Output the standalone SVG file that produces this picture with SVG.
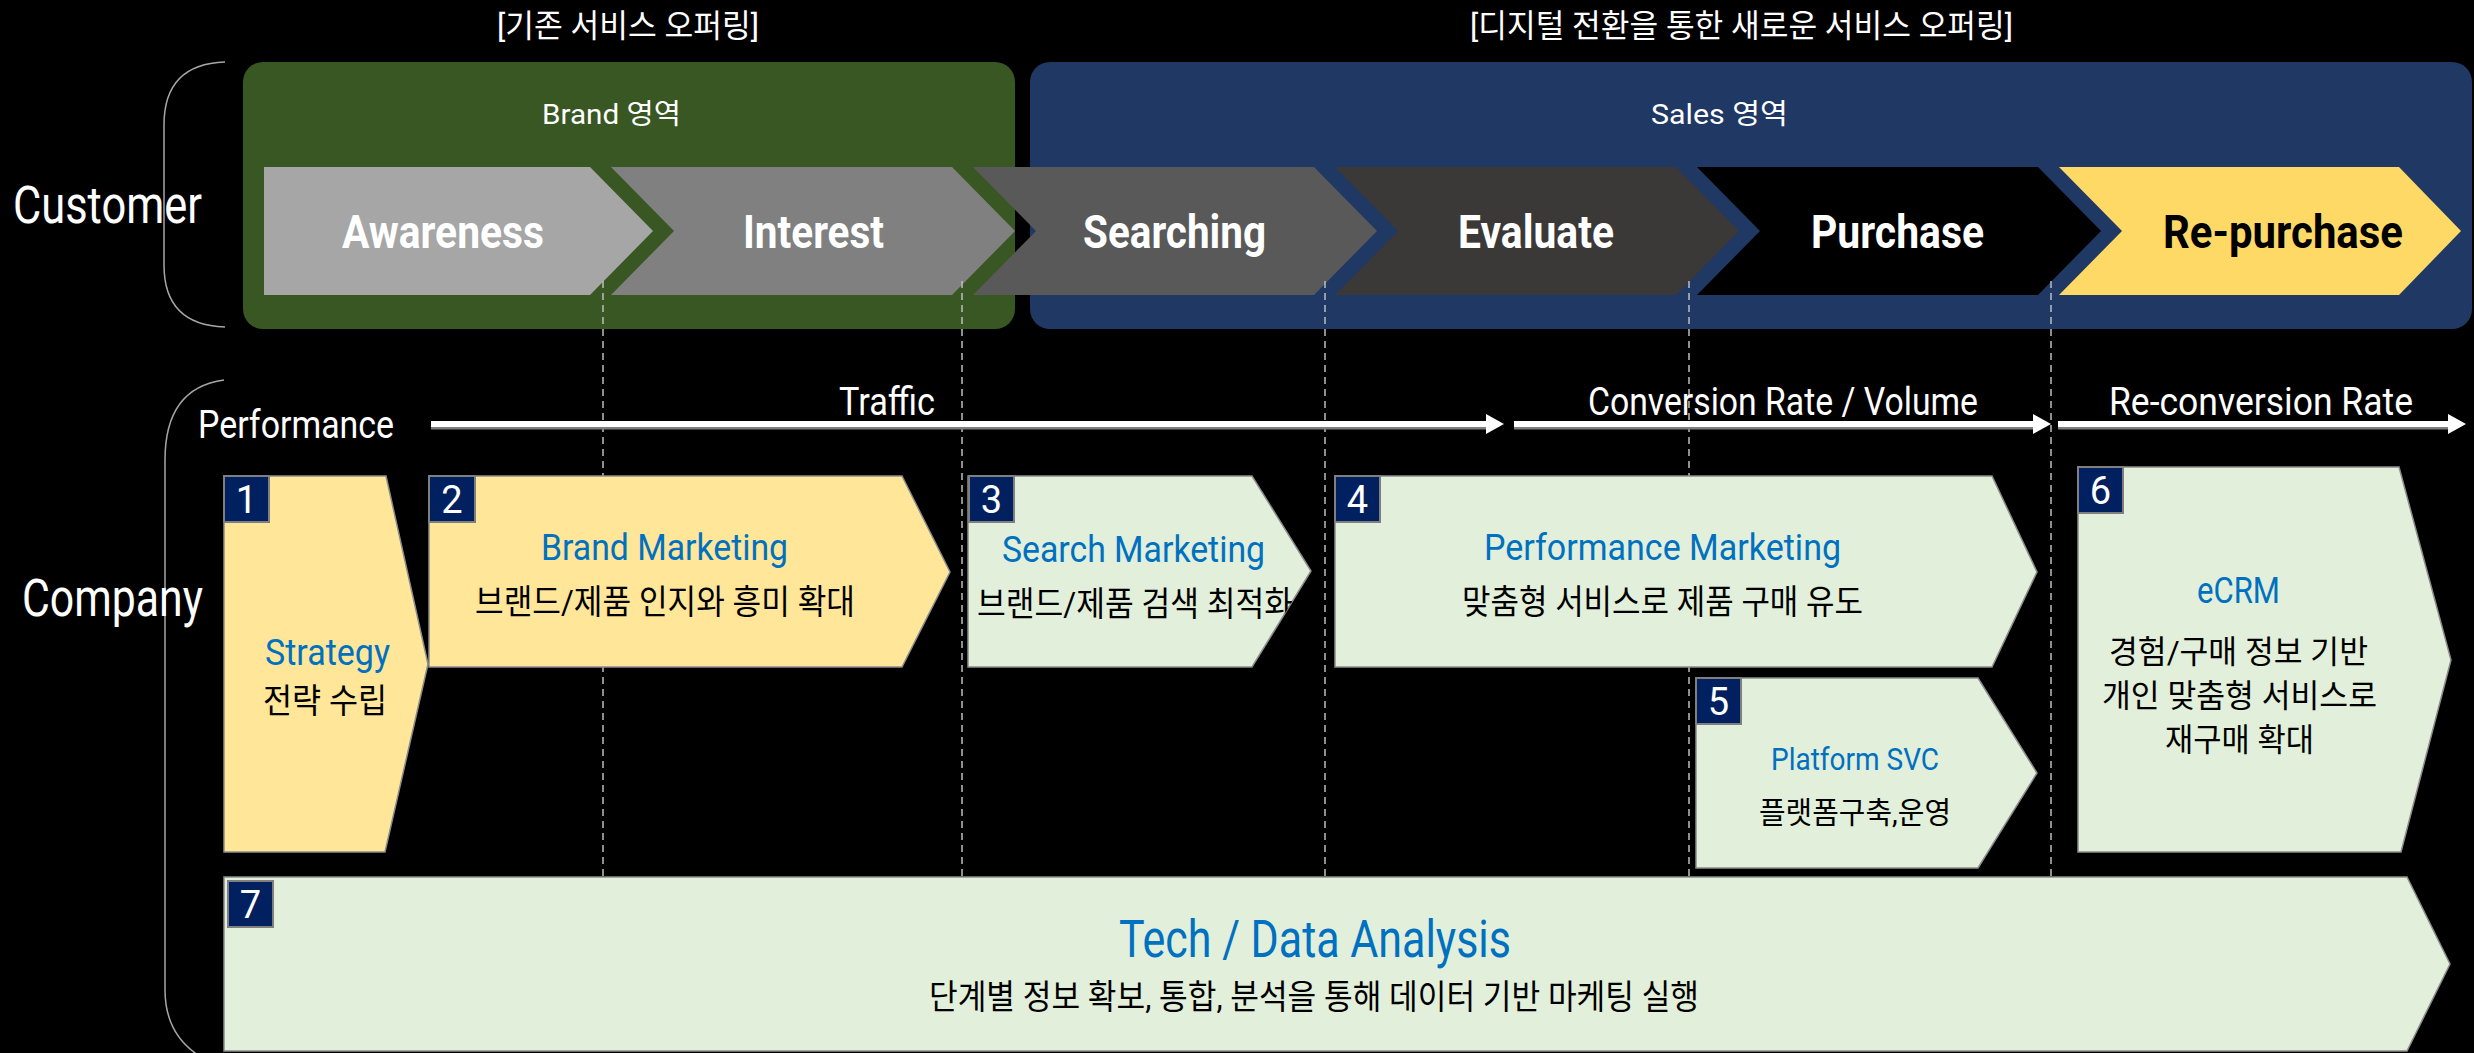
<svg xmlns="http://www.w3.org/2000/svg" width="2474" height="1053" viewBox="0 0 2474 1053">
<style>
text{font-family:Roboto,"Noto Sans CJK KR","Noto Sans",sans-serif}
.w{fill:#FFFFFF}
.k{fill:#000000}
.bl{fill:#0070C0}
.chev{font-size:47px;font-weight:700}
.hd{font-size:32px}
.area{font-size:28px}
.side{font-size:51px}
.perf{font-size:39px}
.ttl{font-size:36px}
.kr{font-size:34px}
.num{font-size:38px;fill:#FFFFFF;text-anchor:middle}
.badge{fill:#002060;stroke:#7F7F7F;stroke-width:2}
.yb{fill:#FFE699;stroke:#8C8C8C;stroke-width:1.5}
.gb{fill:#E2EFDA;stroke:#8C8C8C;stroke-width:1.5}
.brace{fill:none;stroke:#A6A6A6;stroke-width:1.5}
.dash{stroke:#BFBFBF;stroke-width:1.5;stroke-dasharray:7 5;fill:none}
.arr{stroke:#FFFFFF;stroke-width:6;fill:none}
.arrs{stroke:#7F7F7F;stroke-width:3;fill:none}
</style>
<defs>
<marker id="ah" markerUnits="userSpaceOnUse" markerWidth="18" markerHeight="20" refX="0" refY="10" orient="auto">
<path d="M0,0 L18,10 L0,20 Z" fill="#FFFFFF"/>
</marker>
<clipPath id="clip3"><polygon points="968,476 1252,476 1311,571 1252,667 968,667"/></clipPath>
</defs>
<rect width="2474" height="1053" fill="#000000"/>

<g id="headers">
<text class="w hd" x="497" y="37" textLength="262" lengthAdjust="spacingAndGlyphs">[기존 서비스 오퍼링]</text>
<text class="w hd" x="1470" y="37" textLength="543" lengthAdjust="spacingAndGlyphs">[디지털 전환을 통한 새로운 서비스 오퍼링]</text>
</g>

<g id="customer-label">
<path class="brace" d="M225,62 Q164,64 164,125 L164,265 Q164,325 225,327"/>
<text class="w side" x="13" y="223" textLength="189" lengthAdjust="spacingAndGlyphs">Customer</text>
</g>
<g id="company-label">
<path class="brace" d="M224,380 Q165,388 165,460 L165,990 Q165,1040 210,1062"/>
<text class="w side" x="22" y="616" textLength="181" lengthAdjust="spacingAndGlyphs">Company</text>
</g>

<g id="brand-area">
<rect x="243" y="62" width="772" height="267" rx="20" fill="#385723"/>
<text class="w area" x="542" y="124" textLength="139" lengthAdjust="spacingAndGlyphs">Brand 영역</text>
</g>
<g id="sales-area">
<rect x="1030" y="62" width="1442" height="267" rx="20" fill="#203864"/>
<text class="w area" x="1651" y="124" textLength="137" lengthAdjust="spacingAndGlyphs">Sales 영역</text>
</g>

<g id="awareness">
<polygon points="264,167 590,167 653,231 590,295 264,295" fill="#A6A6A6"/>
<text class="w chev" x="342" y="248" textLength="202" lengthAdjust="spacingAndGlyphs">Awareness</text>
</g>
<g id="interest">
<polygon points="611,167 952,167 1015,231 952,295 611,295 674,231" fill="#808080"/>
<text class="w chev" x="743" y="248" textLength="141" lengthAdjust="spacingAndGlyphs">Interest</text>
</g>
<g id="searching">
<polygon points="973,167 1314,167 1377,231 1314,295 973,295 1036,231" fill="#595959"/>
<text class="w chev" x="1083" y="248" textLength="183" lengthAdjust="spacingAndGlyphs">Searching</text>
</g>
<g id="evaluate">
<polygon points="1335,167 1676,167 1739,231 1676,295 1335,295 1398,231" fill="#3B3838"/>
<text class="w chev" x="1458" y="248" textLength="156" lengthAdjust="spacingAndGlyphs">Evaluate</text>
</g>
<g id="purchase">
<polygon points="1697,167 2038,167 2101,231 2038,295 1697,295 1760,231" fill="#000000"/>
<text class="w chev" x="1811" y="248" textLength="173" lengthAdjust="spacingAndGlyphs">Purchase</text>
</g>
<g id="repurchase">
<polygon points="2059,167 2399,167 2461,231 2399,295 2059,295 2122,231" fill="#FFD966"/>
<text class="k chev" x="2163" y="248" textLength="240" lengthAdjust="spacingAndGlyphs">Re-purchase</text>
</g>

<g id="connectors">
<g id="stage-dividers">
<line class="dash" x1="603" y1="281" x2="603" y2="877"/>
<line class="dash" x1="962" y1="281" x2="962" y2="877"/>
<line class="dash" x1="1325" y1="281" x2="1325" y2="877"/>
<line class="dash" x1="1689" y1="281" x2="1689" y2="877"/>
<line class="dash" x1="2051" y1="281" x2="2051" y2="877"/>
</g>
<g id="performance-arrows">
<line class="arrs" x1="431" y1="428" x2="1486" y2="428"/>
<line class="arr" x1="431" y1="424" x2="1486" y2="424" marker-end="url(#ah)"/>
<line class="arrs" x1="1514" y1="428" x2="2033" y2="428"/>
<line class="arr" x1="1514" y1="424" x2="2033" y2="424" marker-end="url(#ah)"/>
<line class="arrs" x1="2058" y1="428" x2="2448" y2="428"/>
<line class="arr" x1="2058" y1="424" x2="2448" y2="424" marker-end="url(#ah)"/>
</g>
</g>

<g id="performance-labels">
<text class="w perf" x="198" y="438" textLength="196" lengthAdjust="spacingAndGlyphs">Performance</text>
<text class="w perf" x="839" y="415" textLength="96" lengthAdjust="spacingAndGlyphs">Traffic</text>
<text class="w perf" x="1588" y="415" textLength="390" lengthAdjust="spacingAndGlyphs">Conversion Rate / Volume</text>
<text class="w perf" x="2109" y="415" textLength="304" lengthAdjust="spacingAndGlyphs">Re-conversion Rate</text>
</g>

<g id="strategy">
<polygon class="yb" points="224,476 386,476 428,664 385,852 224,852"/>
<rect class="badge" x="224" y="476" width="45" height="46"/>
<text class="num" x="246.5" y="513">1</text>
<text class="bl ttl" x="265" y="665" textLength="125" lengthAdjust="spacingAndGlyphs">Strategy</text>
<text class="k kr" x="263" y="713" textLength="124" lengthAdjust="spacingAndGlyphs">전략 수립</text>
</g>

<g id="brand-marketing">
<polygon class="yb" points="429,476 902,476 950,572 902,667 429,667"/>
<rect class="badge" x="429" y="476" width="46" height="46"/>
<text class="num" x="452" y="513">2</text>
<text class="bl ttl" x="541" y="560" textLength="247" lengthAdjust="spacingAndGlyphs">Brand Marketing</text>
<text class="k kr" x="475" y="614" textLength="380" lengthAdjust="spacingAndGlyphs">브랜드/제품 인지와 흥미 확대</text>
</g>

<g id="search-marketing">
<polygon class="gb" points="968,476 1252,476 1311,571 1252,667 968,667"/>
<rect class="badge" x="969" y="476" width="45" height="46"/>
<text class="num" x="991.5" y="513">3</text>
<text class="bl ttl" x="1002" y="562" textLength="263" lengthAdjust="spacingAndGlyphs">Search Marketing</text>
<text class="k kr" x="977" y="616" textLength="316" lengthAdjust="spacingAndGlyphs" clip-path="url(#clip3)">브랜드/제품 검색 최적화</text>
</g>

<g id="performance-marketing">
<polygon class="gb" points="1335,476 1992,476 2037,572 1992,667 1335,667"/>
<rect class="badge" x="1335" y="476" width="45" height="46"/>
<text class="num" x="1357.5" y="513">4</text>
<text class="bl ttl" x="1484" y="560" textLength="357" lengthAdjust="spacingAndGlyphs">Performance Marketing</text>
<text class="k kr" x="1462" y="614" textLength="401" lengthAdjust="spacingAndGlyphs">맞춤형 서비스로 제품 구매 유도</text>
</g>

<g id="platform-svc">
<polygon class="gb" points="1696,678 1978,678 2037,773 1978,868 1696,868"/>
<rect class="badge" x="1696" y="678" width="45" height="46"/>
<text class="num" x="1718.5" y="715">5</text>
<text class="bl" style="font-size:31px" x="1771" y="770" textLength="168" lengthAdjust="spacingAndGlyphs">Platform SVC</text>
<text class="k" style="font-size:30px" x="1759" y="823" textLength="192" lengthAdjust="spacingAndGlyphs">플랫폼구축,운영</text>
</g>

<g id="ecrm">
<polygon class="gb" points="2078,467 2399,467 2451,660 2401,852 2078,852"/>
<rect class="badge" x="2078" y="467" width="45" height="46"/>
<text class="num" x="2100.5" y="504">6</text>
<text class="bl ttl" x="2197" y="603" textLength="83" lengthAdjust="spacingAndGlyphs">eCRM</text>
<text class="k" style="font-size:32px" x="2109" y="663" textLength="259" lengthAdjust="spacingAndGlyphs">경험/구매 정보 기반</text>
<text class="k" style="font-size:32px" x="2102" y="707" textLength="275" lengthAdjust="spacingAndGlyphs">개인 맞춤형 서비스로</text>
<text class="k" style="font-size:32px" x="2165" y="751" textLength="149" lengthAdjust="spacingAndGlyphs">재구매 확대</text>
</g>

<g id="tech-data">
<polygon class="gb" points="224,877 2407,877 2450,964 2407,1051 224,1051"/>
<rect class="badge" x="228" y="881" width="45" height="46"/>
<text class="num" x="250.5" y="918">7</text>
<text class="bl" style="font-size:51px" x="1119" y="957" textLength="392" lengthAdjust="spacingAndGlyphs">Tech / Data Analysis</text>
<text class="k kr" x="929" y="1009" textLength="770" lengthAdjust="spacingAndGlyphs">단계별 정보 확보, 통합, 분석을 통해 데이터 기반 마케팅 실행</text>
</g>
</svg>
